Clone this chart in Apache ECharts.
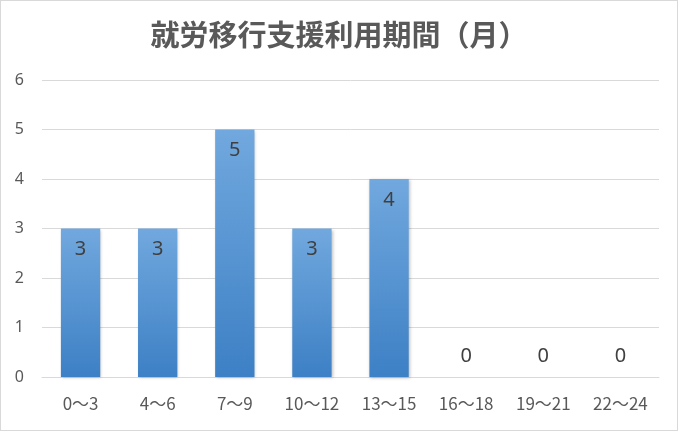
<!DOCTYPE html>
<html>
<head>
<meta charset="utf-8">
<script src="https://cdn.jsdelivr.net/npm/echarts@6/dist/echarts.min.js"></script>
<style>
  html, body { margin: 0; padding: 0; background: #fff; }
  #chart { width: 676px; height: 429px; border: 1px solid #d9d9d9; }
</style>
</head>
<body>
<div id="chart"></div>
<script>
const categories = ['0～3', '4～6', '7～9', '10～12', '13～15', '16～18', '19～21', '22～24'];
const counts = [3, 3, 5, 3, 4, 0, 0, 0];
const yTicks = [0, 1, 2, 3, 4, 5, 6];

const chart = echarts.init(document.getElementById('chart'));

const option = {
  backgroundColor: '#ffffff',
  title: {
    text: '就労移行支援利用期間（月）',
    left: 'center',
    top: 14,
    textStyle: {
      fontFamily: 'Noto Sans CJK JP',
      fontSize: 29,
      fontWeight: 'bold',
      color: '#595959'
    }
  },
  grid: {
    left: 41,
    right: 18,
    top: 79,
    bottom: 53
  },
  xAxis: {
    type: 'category',
    data: categories,
    axisLine: { lineStyle: { color: '#d9d9d9' } },
    axisTick: { show: false },
    axisLabel: {
      fontFamily: 'Noto Sans CJK JP',
      fontSize: 17,
      color: '#595959',
      margin: 18
    }
  },
  yAxis: {
    type: 'value',
    min: yTicks[0],
    max: yTicks[yTicks.length - 1],
    interval: 1,
    axisLine: { show: false },
    axisTick: { show: false },
    splitLine: { lineStyle: { color: '#d9d9d9' } },
    axisLabel: {
      fontFamily: 'Noto Sans',
      fontSize: 16,
      color: '#595959',
      margin: 18
    }
  },
  series: [{
    type: 'bar',
    barWidth: '51%',
    data: counts.map(v => ({
      value: v,
      label: v === 0 ? { position: 'top', distance: 11 } : {}
    })),
    itemStyle: {
      color: new echarts.graphic.LinearGradient(0, 0, 0, 1, [
        { offset: 0, color: '#71a8de' },
        { offset: 1, color: '#3d80c5' }
      ]),
      shadowColor: 'rgba(0,0,0,0.25)',
      shadowBlur: 3,
      shadowOffsetX: 1,
      shadowOffsetY: 1
    },
    label: {
      show: true,
      position: 'insideTop',
      distance: 11,
      fontFamily: 'Noto Sans',
      fontSize: 20,
      color: '#404040'
    }
  }]
};

chart.setOption(option);
</script>
</body>
</html>
